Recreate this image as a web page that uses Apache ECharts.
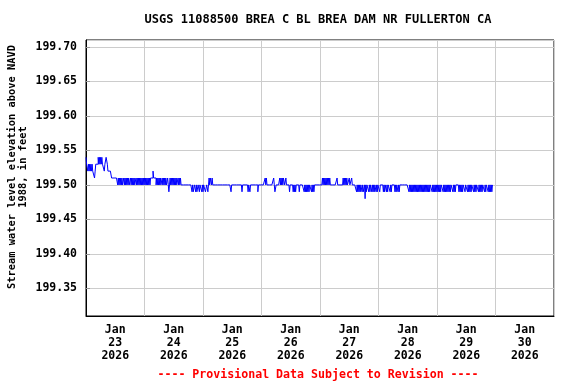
<!DOCTYPE html>
<html>
<head>
<meta charset="utf-8">
<script src="https://cdn.jsdelivr.net/npm/echarts@6/dist/echarts.min.js"></script>
<style>html,body{margin:0;padding:0;background:#fff}#c{width:576px;height:384px}</style>
</head>
<body>
<div id="c"></div>
<script>
// Gage height in hundredths of a foot above 199.00 ft, every 15 minutes, starting Jan 23 00:00
const jan23 = [54,53,53,52,53,52,53,52, 53,52,53,52,52,52,51,52, 53,53,53,53,54,53,54,53, 54,53,54,53,53,53,52,53,
               53,54,54,53,52,52,52,52, 52,52,51,51,51,51,51,51, 51,51,51,51,50,51,50,51, 50,51,50,51,50,50,51,50,
               51,50,51,50,51,50,51,50, 50,51,50,51,50,51,50,51, 50,50,51,50,51,50,51,50, 51,50,51,50,51,50,51,50];
const jan24 = [51,50,51,50,51,50,51,50, 51,50,51,51,51,51,52,51, 51,51,51,50,51,50,51,50, 51,50,51,50,50,51,50,51,
               50,51,50,51,50,50,51,50, 49,50,51,50,51,50,51,50, 51,50,51,50,51,50,50,51, 50,51,50,51,50,50,50,50,
               50,50,50,50,50,50,50,50, 50,50,50,50,50,50,49,50, 49,49,50,50,49,50,49,49, 50,50,49,50,50,50,49,50];
const jan25 = [49,50,50,50,49,49,50,50, 49,50,51,50,51,51,50,51, 50,50,50,50,50,50,50,50, 50,50,50,50,50,50,50,50,
               50,50,50,50,50,50,50,50, 50,50,50,50,50,50,49,50, 50,50,50,50,50,50,50,50, 50,50,50,50,50,50,50,50,
               49,50,50,50,50,50,50,50, 50,50,49,50,50,49,50,50, 50,50,50,50,50,50,50,50, 50,50,49,50,50,50,50,50];
const jan26 = [50,50,50,50,50,50,51,50, 51,50,50,50,50,50,50,50, 50,50,50,50,51,50,49,49, 50,50,50,50,50,50,51,50,
               51,50,51,50,51,51,50,50, 51,50,50,50,50,50,49,50, 50,50,50,50,49,50,49,50, 49,50,50,50,50,50,49,50,
               50,50,50,50,50,50,49,50, 49,50,49,50,49,50,49,50, 50,50,49,50,49,50,49,50, 50,50,50,50,50,50,50,50];
const jan27 = [50,50,50,50,51,50,51,50, 51,50,51,50,51,50,51,50, 51,50,50,50,50,50,50,50, 50,50,50,50,51,50,50,50,
               50,50,50,50,50,50,51,50, 51,50,51,50,51,50,50,50, 51,50,50,50,51,50,50,50, 50,50,50,50,49,50,49,50,
               49,50,49,50,50,49,50,49, 49,50,48,50,49,50,50,50, 49,50,49,50,50,49,50,49, 50,49,50,50,49,50,49,50];
const jan28 = [50,50,49,50,50,50,50,50, 49,50,49,50,50,49,50,49, 50,50,50,49,50,49,50,50, 50,50,50,49,50,49,50,50,
               49,50,49,50,50,50,50,50, 50,50,50,50,50,50,50,50, 50,50,49,50,49,50,49,50, 49,50,49,50,49,50,49,50,
               49,50,49,50,49,50,49,50, 49,50,49,50,49,50,49,50, 49,50,49,50,49,50,50,50, 49,50,49,50,49,50,49,50];
const jan29 = [49,50,49,50,49,50,49,50, 50,50,49,50,49,50,49,50, 49,50,49,50,49,50,49,50, 50,50,49,50,49,50,49,50,
               50,50,50,50,49,50,49,50, 49,50,49,50,50,50,49,50, 50,50,49,50,49,50,49,50, 49,50,50,50,49,50,49,50,
               49,50,50,50,49,50,49,50, 49,50,49,50,50,50,49,50, 49,50,50,50,49,50,49,50, 49,50,49,50];

const dayLabels = ['Jan\n23\n2026','Jan\n24\n2026','Jan\n25\n2026','Jan\n26\n2026','Jan\n27\n2026','Jan\n28\n2026','Jan\n29\n2026','Jan\n30\n2026'];
const titleText = 'USGS 11088500 BREA C BL BREA DAM NR FULLERTON CA';
const yName = 'Stream water level elevation above NAVD\n1988, in feet';
const footer = '---- Provisional Data Subject to Revision ----';
const yMin = 199.31, yMax = 199.71;
const stepHours = 0.25;

const all = [].concat(jan23, jan24, jan25, jan26, jan27, jan28, jan29);
const seriesData = all.map((v, i) => [i * stepHours, 199 + v / 100]);

const FONT = '"DejaVu Sans Mono", monospace';
const chart = echarts.init(document.getElementById('c'), null, {renderer: 'canvas'});
chart.setOption({
  animation: false,
  backgroundColor: '#fff',
  grid: {left: 86, right: 22, top: 40, bottom: 68, show: true, borderColor: '#000', borderWidth: 1, backgroundColor: 'transparent'},
  xAxis: [
    {
      type: 'category', data: dayLabels, boundaryGap: true, position: 'bottom',
      axisLine: {show: true, lineStyle: {color: '#000', width: 1}},
      axisTick: {show: false},
      splitLine: {show: true, interval: 0, lineStyle: {color: '#cccccc', width: 1}},
      axisLabel: {interval: 0, margin: 8, color: '#000', fontFamily: FONT, fontWeight: 'bold', fontSize: 11.5, lineHeight: 12.7}
    },
    {type: 'value', min: 0, max: 192, show: false}
  ],
  yAxis: {
    type: 'value', min: yMin, max: yMax, splitNumber: 8,
    axisLine: {show: true, lineStyle: {color: '#000', width: 1}},
    axisTick: {show: true, inside: true, length: 4, lineStyle: {color: '#999'}},
    splitLine: {show: true, lineStyle: {color: '#cccccc', width: 1}},
    axisLabel: {showMinLabel: false, showMaxLabel: false, margin: 9, color: '#000', fontFamily: FONT, fontWeight: 'bold', fontSize: 11.5,
      formatter: v => v.toFixed(2)}
  },
  series: [{
    type: 'line', xAxisIndex: 1, data: seriesData, showSymbol: false, symbol: 'none', step: 'end',
    lineStyle: {color: '#0000ff', width: 1}, itemStyle: {color: '#0000ff'}
  }],
  graphic: [
    {type: 'text', x: 318, y: 20, style: {text: titleText, align: 'center', verticalAlign: 'middle', fill: '#000', font: 'bold 12px ' + FONT}},
    {type: 'text', x: 17.5, y: 167, rotation: Math.PI / 2, style: {text: yName, align: 'center', verticalAlign: 'middle', fill: '#000', font: 'bold 10.4px ' + FONT, lineHeight: 11}},
    {type: 'text', x: 318, y: 375, style: {text: footer, align: 'center', verticalAlign: 'middle', fill: '#ff0000', font: 'bold 11.6px ' + FONT}}
  ]
});
</script>
</body>
</html>
